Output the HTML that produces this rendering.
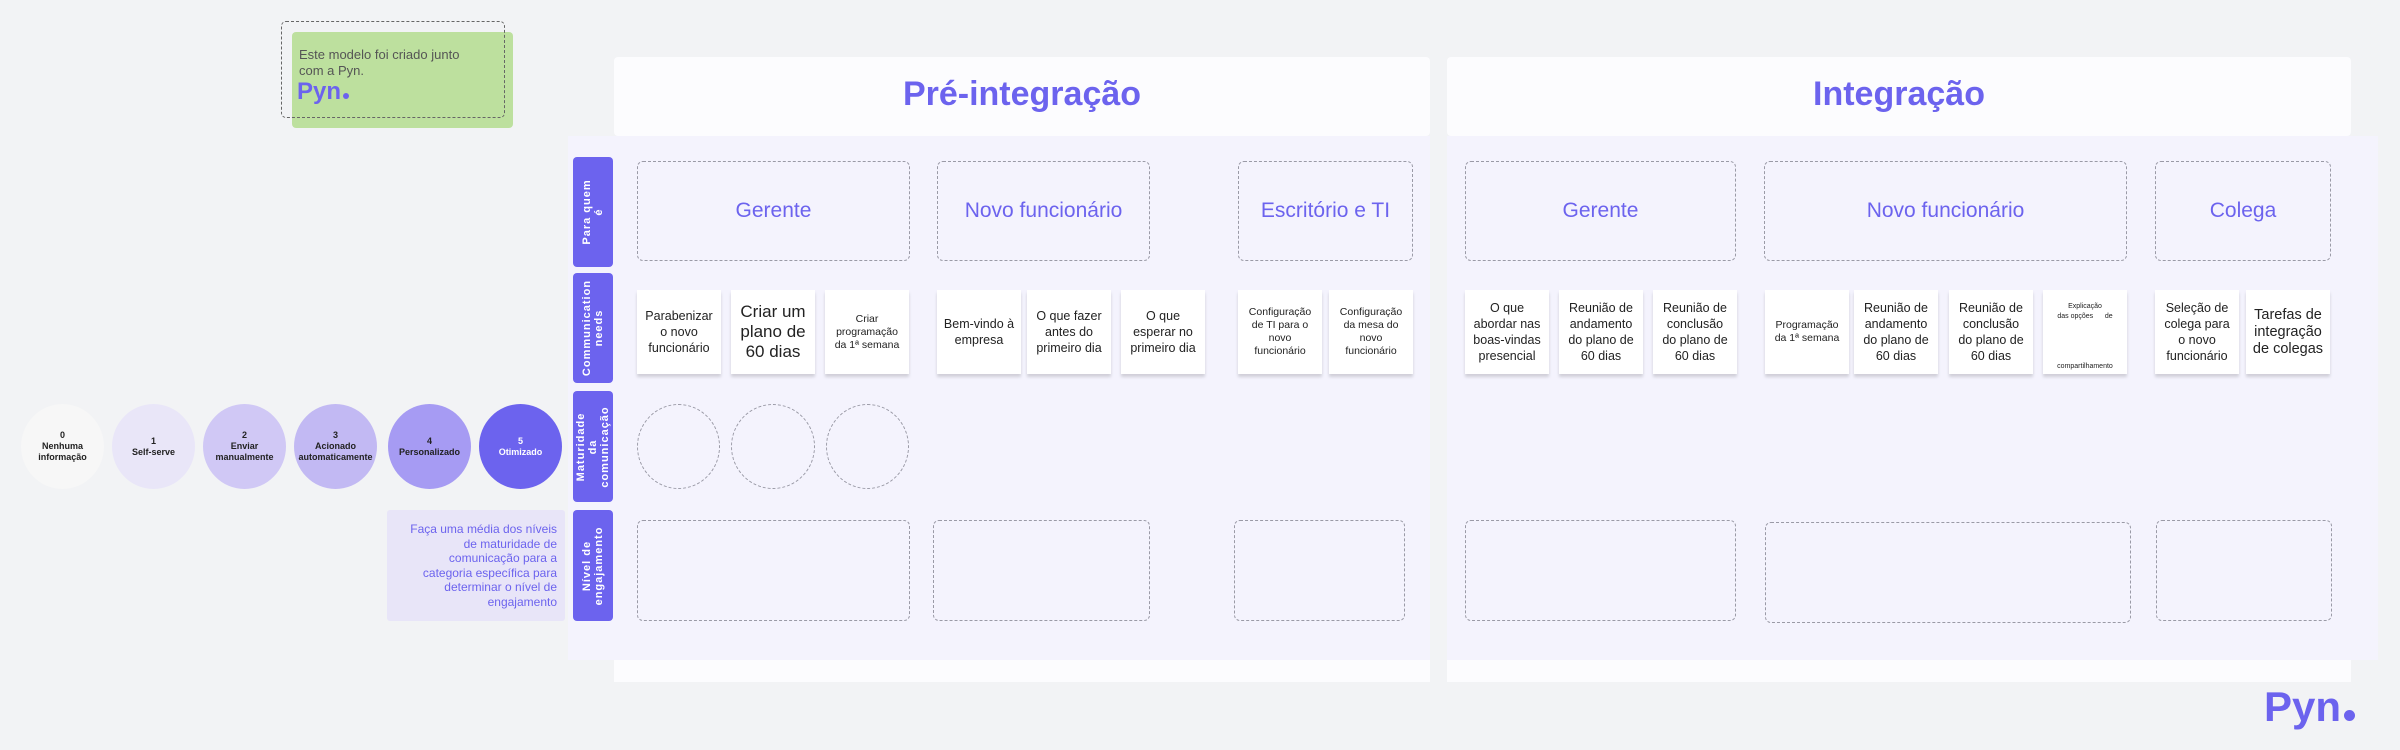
<!DOCTYPE html>
<html><head><meta charset="utf-8"><style>
*{margin:0;padding:0;box-sizing:border-box}
body{width:2400px;height:750px;background:#f2f3f5;position:relative;overflow:hidden;font-family:"Liberation Sans",sans-serif}
.a{position:absolute}
.hdr{background:#fcfcfe;border-radius:4px}
.lav{background:#f4f3fd}
.tab{background:#6c63ee;border-radius:4px;color:#fff;font-weight:bold;font-size:11px;letter-spacing:1px;overflow:hidden}
.tab span{position:absolute;left:50%;top:50%;transform:translate(-50%,-50%) rotate(-90deg);white-space:nowrap;text-align:center;line-height:12px}
.dash{border:1.5px dashed #9a9aa6;border-radius:6px;display:flex;align-items:center;justify-content:center;color:#6c63ee;font-size:21px}
.card{background:#fff;box-shadow:0 3px 3px rgba(0,0,0,0.15);display:flex;align-items:center;justify-content:center;text-align:center;font-size:12.5px;color:#222;line-height:16px;padding:2px 6px}
.circ{border-radius:50%;display:flex;align-items:center;justify-content:center;text-align:center;font-size:9px;font-weight:bold;color:#222;line-height:11px}
.dc{border:1.5px dashed #9a9aa6;border-radius:50%}
.title{color:#6c63ee;font-weight:bold;font-size:34px;text-align:center}
</style></head><body>
<div class="a" style="left:292px;top:32px;width:221px;height:96px;background:#bde09e;border-radius:4px"></div>
<div class="a" style="left:281px;top:21px;width:224px;height:97px;border:1.5px dashed #666;border-radius:5px"></div>
<div class="a" style="left:299px;top:47px;font-size:13px;color:#555;line-height:16px">Este modelo foi criado junto<br>com a Pyn.</div>
<div class="a" style="left:297px;top:78px;font-size:24px;color:#6c63ee;font-weight:bold">Pyn<span style="display:inline-block;width:6px;height:6px;border-radius:50%;background:#6c63ee;margin-left:2px"></span></div>

<div class="a lav" style="left:568px;top:136px;width:1810px;height:524px"></div>
<div class="a hdr" style="left:614px;top:57px;width:816px;height:79px"></div>
<div class="a hdr" style="left:1447px;top:57px;width:904px;height:79px"></div>
<div class="a" style="left:614px;top:660px;width:816px;height:22px;background:#fcfcfe"></div>
<div class="a" style="left:1447px;top:660px;width:904px;height:22px;background:#fcfcfe"></div>
<div class="a" style="left:1430px;top:136px;width:17px;height:546px;background:#f2f3f5"></div>
<div class="a title" style="left:614px;top:75px;width:816px">Pré-integração</div>
<div class="a title" style="left:1447px;top:75px;width:904px">Integração</div>

<div class="a tab" style="left:573px;top:157px;width:40px;height:110px"><span>Para quem<br>é</span></div>
<div class="a tab" style="left:573px;top:273px;width:40px;height:110px"><span>Communication<br>needs</span></div>
<div class="a tab" style="left:573px;top:391px;width:40px;height:111px"><span>Maturidade<br>da<br>comunicação</span></div>
<div class="a tab" style="left:573px;top:510px;width:40px;height:111px"><span>Nível de<br>engajamento</span></div>

<div class="a dash" style="left:637px;top:161px;width:273px;height:100px">Gerente</div>
<div class="a dash" style="left:937px;top:161px;width:213px;height:100px">Novo funcionário</div>
<div class="a dash" style="left:1238px;top:161px;width:175px;height:100px">Escritório e TI</div>
<div class="a dash" style="left:1465px;top:161px;width:271px;height:100px">Gerente</div>
<div class="a dash" style="left:1764px;top:161px;width:363px;height:100px">Novo funcionário</div>
<div class="a dash" style="left:2155px;top:161px;width:176px;height:100px">Colega</div>

<div class="a card" style="left:637px;top:290px;width:84px;height:84px">Parabenizar o novo funcionário</div>
<div class="a card" style="left:731px;top:290px;width:84px;height:84px;font-size:17px;line-height:20px">Criar um plano de 60 dias</div>
<div class="a card" style="left:825px;top:290px;width:84px;height:84px;font-size:10.5px;line-height:13px">Criar programação da 1ª semana</div>
<div class="a card" style="left:937px;top:290px;width:84px;height:84px">Bem-vindo à empresa</div>
<div class="a card" style="left:1027px;top:290px;width:84px;height:84px">O que fazer antes do primeiro dia</div>
<div class="a card" style="left:1121px;top:290px;width:84px;height:84px">O que esperar no primeiro dia</div>
<div class="a card" style="left:1238px;top:290px;width:84px;height:84px;font-size:10.5px;line-height:13px">Configuração de TI para o novo funcionário</div>
<div class="a card" style="left:1329px;top:290px;width:84px;height:84px;font-size:10.5px;line-height:13px">Configuração da mesa do novo funcionário</div>
<div class="a card" style="left:1465px;top:290px;width:84px;height:84px">O que abordar nas boas-vindas presencial</div>
<div class="a card" style="left:1559px;top:290px;width:84px;height:84px">Reunião de andamento do plano de 60 dias</div>
<div class="a card" style="left:1653px;top:290px;width:84px;height:84px">Reunião de conclusão do plano de 60 dias</div>
<div class="a card" style="left:1765px;top:290px;width:84px;height:84px;font-size:10.5px;line-height:13px">Programação da 1ª semana</div>
<div class="a card" style="left:1854px;top:290px;width:84px;height:84px">Reunião de andamento do plano de 60 dias</div>
<div class="a card" style="left:1949px;top:290px;width:84px;height:84px">Reunião de conclusão do plano de 60 dias</div>
<div class="a card" style="left:2043px;top:290px;width:84px;height:84px;font-size:7px;line-height:10px;display:block;padding-top:12px">Explicação<br>das opções &nbsp;&nbsp;&nbsp;&nbsp;&nbsp;de<br><br><br><br><br>compartilhamento</div>
<div class="a card" style="left:2155px;top:290px;width:84px;height:84px">Seleção de colega para o novo funcionário</div>
<div class="a card" style="left:2246px;top:290px;width:84px;height:84px;font-size:14.5px;line-height:17px">Tarefas de integração de colegas</div>

<div class="a dc" style="left:637px;top:404px;width:83px;height:85px"></div>
<div class="a dc" style="left:731px;top:404px;width:84px;height:85px"></div>
<div class="a dc" style="left:826px;top:404px;width:83px;height:85px"></div>

<div class="a circ" style="left:21px;top:404px;width:83px;height:85px;background:#f7f7f7">0<br>Nenhuma<br>informação</div>
<div class="a circ" style="left:112px;top:404px;width:83px;height:85px;background:#e9e6f8">1<br>Self-serve</div>
<div class="a circ" style="left:203px;top:404px;width:83px;height:85px;background:#d0c8f5">2<br>Enviar<br>manualmente</div>
<div class="a circ" style="left:294px;top:404px;width:83px;height:85px;background:#c2b9f3">3<br>Acionado<br>automaticamente</div>
<div class="a circ" style="left:388px;top:404px;width:83px;height:85px;background:#a69bf3">4<br>Personalizado</div>
<div class="a circ" style="left:479px;top:404px;width:83px;height:85px;background:#6c63ee;color:#fff">5<br>Otimizado</div>

<div class="a" style="left:387px;top:510px;width:178px;height:111px;background:#e8e5f8;border-radius:3px;color:#6c63ee;font-size:12px;line-height:14.5px;text-align:right;padding:12px 8px 0 10px">Faça uma média dos níveis de maturidade de comunicação para a categoria específica para determinar o nível de engajamento</div>

<div class="a dash" style="left:637px;top:520px;width:273px;height:101px"></div>
<div class="a dash" style="left:933px;top:520px;width:217px;height:101px"></div>
<div class="a dash" style="left:1234px;top:520px;width:171px;height:101px"></div>
<div class="a dash" style="left:1465px;top:520px;width:271px;height:101px"></div>
<div class="a dash" style="left:1765px;top:522px;width:366px;height:101px"></div>
<div class="a dash" style="left:2156px;top:520px;width:176px;height:101px"></div>

<div class="a" style="left:2264px;top:683px;font-size:42px;color:#6c63ee;font-weight:bold;line-height:48px">Pyn<span style="display:inline-block;width:11px;height:11px;border-radius:50%;background:#6c63ee;margin-left:3px"></span></div>
</body></html>
